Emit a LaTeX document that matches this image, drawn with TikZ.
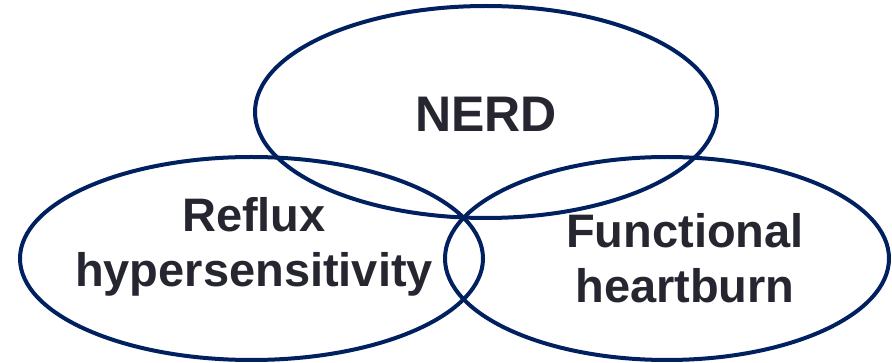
\documentclass[tikz,border=0pt]{standalone}
\usepackage{fontspec}
\setmainfont{Liberation Sans}
\usetikzlibrary{shapes.geometric}
\definecolor{navy}{RGB}{0,32,96}
\definecolor{txt}{RGB}{38,38,48}
\begin{document}
\begin{tikzpicture}[x=1pt,y=-1pt,
  venn/.style={draw=navy,line width=4pt,ellipse,inner sep=0pt},
  lbl/.style={text=txt,font=\bfseries\fontsize{47}{55}\selectfont,align=center,inner sep=0pt}]
\useasboundingbox (0,0) rectangle (892,363);
\node[venn,minimum width=462pt,minimum height=212pt] (top) at (486,112) {};
\node[venn,minimum width=463pt,minimum height=203pt] (left) at (251.5,258.5) {};
\node[venn,minimum width=444pt,minimum height=203pt] (right) at (667,258.5) {};
\node[lbl,anchor=base,font=\bfseries\fontsize{50}{55}\selectfont] (nerd) at (486,132) {NERD};
\node[lbl,anchor=base] (reflux) at (254,232) {Reflux};
\node[lbl,anchor=base] (hyper) at (254,287) {hypersensitivity};
\node[lbl,anchor=base] (func) at (685,248) {Functional};
\node[lbl,anchor=base] (heart) at (685,303) {heartburn};
\end{tikzpicture}
\end{document}
